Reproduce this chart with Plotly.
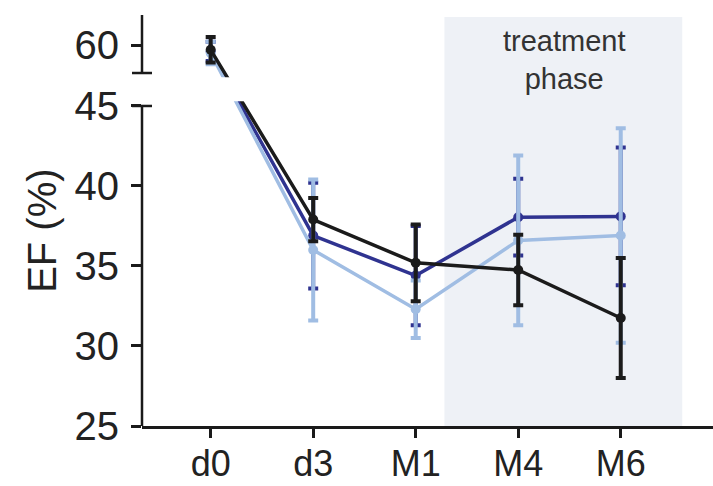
import plotly.graph_objects as go

# ---- data (real EF % values) ----
timepoints = ["d0", "d3", "M1", "M4", "M6"]
navy_mean = [59.6, 36.9, 34.4, 38.05, 38.1]
navy_err = [0.6, 3.3, 3.1, 2.4, 4.3]
light_mean = [59.5, 36.0, 32.3, 36.6, 36.9]
light_err = [0.7, 4.4, 1.8, 5.3, 6.7]
black_mean = [59.7, 37.9, 35.2, 34.75, 31.75]
black_err = [0.8, 1.35, 2.4, 2.2, 3.75]

y_ticks_real = [25, 30, 35, 40, 45, 60]

# broken-axis mapping: values above the break are shifted down
BREAK_SHIFT = 11.19


def disp(v):
    return v - BREAK_SHIFT if v > 50 else v


xs = list(range(len(timepoints)))

NAVY = "#2f3390"
LIGHT = "#a0bde3"
BLACK = "#1b1b1b"

fig = go.Figure()

for mean, err, col, lw in [
    (navy_mean, navy_err, NAVY, 3.5),
    (light_mean, light_err, LIGHT, 3.5),
    (black_mean, black_err, BLACK, 3.5),
]:
    fig.add_trace(go.Scatter(
        x=xs, y=[disp(v) for v in mean],
        mode="lines+markers",
        line=dict(color=col, width=lw),
        marker=dict(color=col, size=10, symbol="circle"),
        error_y=dict(type="data", array=err, visible=True,
                     color=col, thickness=4, width=5),
        showlegend=False,
        cliponaxis=False,
        hoverinfo="skip",
    ))

y_top = disp(60) + 30 / 16.0
gap_lo, gap_hi = 45.0, disp(58.25)

shapes = [
    # treatment phase shading
    dict(type="rect", xref="x", yref="y", x0=2.28, x1=4.6, y0=25, y1=y_top - 0.12,
         fillcolor="#eef1f6", line=dict(width=0), layer="below"),
    # white gap hiding lines across the break
    dict(type="rect", xref="paper", yref="y", x0=0.006, x1=0.4, y0=45.3, y1=46.8,
         fillcolor="white", line=dict(width=0), layer="above"),
    # y axis segments
    dict(type="line", xref="paper", yref="y", x0=0, x1=0, y0=25, y1=gap_lo,
         line=dict(color="#1a1a1a", width=2.5), layer="above"),
    dict(type="line", xref="paper", yref="y", x0=0, x1=0, y0=gap_hi, y1=y_top,
         line=dict(color="#1a1a1a", width=2.5), layer="above"),
    # break caps
    dict(type="line", xref="paper", yref="y", x0=-0.0175, x1=0.0175, y0=gap_lo, y1=gap_lo,
         line=dict(color="#1a1a1a", width=2.5), layer="above"),
    dict(type="line", xref="paper", yref="y", x0=-0.0175, x1=0.0175, y0=gap_hi, y1=gap_hi,
         line=dict(color="#1a1a1a", width=2.5), layer="above"),
]

FONT = "Liberation Sans, Arial, Helvetica, sans-serif"

fig.update_layout(
    width=713, height=486,
    margin=dict(l=142, r=0, t=15, b=60),
    paper_bgcolor="white", plot_bgcolor="white",
    font=dict(family=FONT, color="#222222"),
    shapes=shapes,
    annotations=[dict(
        x=3.45, xref="x", y=1.0, yref="paper", yanchor="top",
        text="treatment<br>phase", showarrow=False,
        font=dict(size=29, color="#333333", family=FONT),
        yshift=-8,
    ), dict(
        x=-0.175, xref="paper", xanchor="center", y=disp(37.2), yref="y",
        yanchor="middle",
        text="EF (%)", textangle=-90, showarrow=False,
        font=dict(size=40, color="#222222", family=FONT),
    )],
    xaxis=dict(
        range=[-0.67, 4.9], tickvals=xs, ticktext=timepoints,
        showline=True, linecolor="#1a1a1a", linewidth=2.5,
        ticks="outside", ticklen=9, tickwidth=2.5, tickcolor="#1a1a1a",
        showgrid=False, zeroline=False, automargin=False,
        tickfont=dict(size=36, family=FONT, color="#222222"),
        ticklabelstandoff=-5,
    ),
    yaxis=dict(
        range=[25, y_top],
        tickvals=[disp(v) for v in y_ticks_real],
        ticktext=[str(v) for v in y_ticks_real],
        showline=False, automargin=False,
        ticks="outside", ticklen=10, tickwidth=2.5, tickcolor="#1a1a1a",
        showgrid=False, zeroline=False,
        tickfont=dict(size=40, family=FONT, color="#222222"),
        ticklabelstandoff=4,
    ),
)

fig.write_html("out.html", config={"displayModeBar": False},
               post_script="document.body.style.margin='0';")
